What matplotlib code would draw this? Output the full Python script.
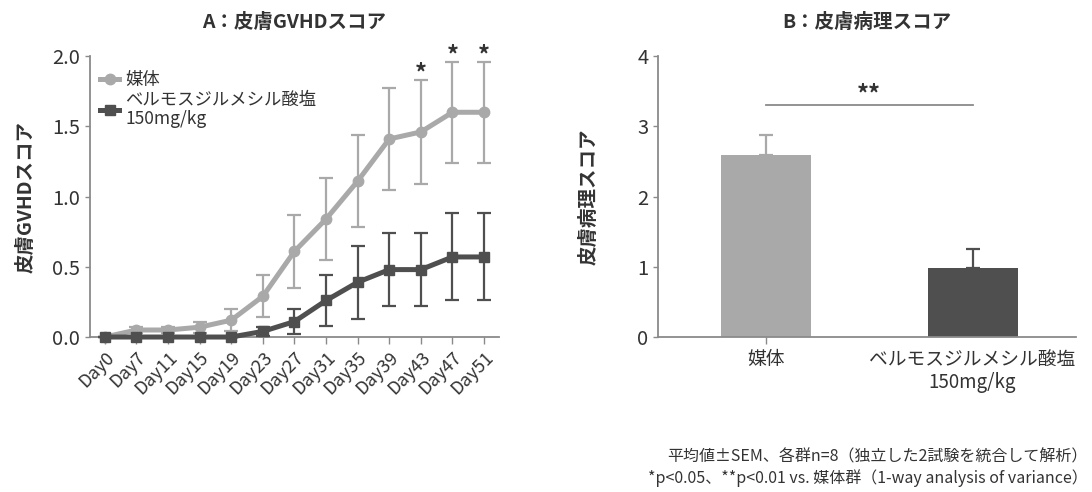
import matplotlib
matplotlib.use("Agg")
import matplotlib.pyplot as plt
from matplotlib.lines import Line2D
import numpy as np

plt.rcParams['font.family'] = ['Noto Sans CJK JP', 'DejaVu Sans']

# Panel A: skin GVHD score over time
days = ["Day0", "Day7", "Day11", "Day15", "Day19", "Day23", "Day27",
        "Day31", "Day35", "Day39", "Day43", "Day47", "Day51"]
vehicle_mean = [0.0, 0.05, 0.05, 0.07, 0.12, 0.29, 0.61, 0.84, 1.11, 1.41, 1.46, 1.60, 1.60]
vehicle_sem = [0.0, 0.02, 0.02, 0.04, 0.08, 0.15, 0.26, 0.29, 0.33, 0.36, 0.37, 0.36, 0.36]
drug_mean = [0.0, 0.0, 0.0, 0.0, 0.0, 0.04, 0.11, 0.26, 0.39, 0.48, 0.48, 0.57, 0.57]
drug_sem = [0.0, 0.0, 0.0, 0.0, 0.0, 0.03, 0.09, 0.18, 0.26, 0.26, 0.26, 0.31, 0.31]
star_days = ["Day43", "Day47", "Day51"]

# Panel B: skin pathology score
groups = ["媒体", "ベルモスジルメシル酸塩\n150mg/kg"]
path_mean = [2.59, 0.98]
path_sem = [0.28, 0.28]

legend_labels = ["媒体", "ベルモスジルメシル酸塩\n150mg/kg"]

c_light = "#a9a9a9"
c_dark = "#4f4f4f"
spine_c = "#8a8a8a"
text_c = "#333333"

fig = plt.figure(figsize=(10.92, 4.92), dpi=100)
axA = fig.add_axes([0.0824, 0.315, 0.3745, 0.571])
axB = fig.add_axes([0.6026, 0.315, 0.3828, 0.571])

x = np.arange(len(days))
axA.errorbar(x, vehicle_mean, yerr=vehicle_sem, color=c_light, lw=3.6,
             marker='o', ms=7.5, ecolor=c_light, elinewidth=1.6, capsize=5,
             capthick=1.6, clip_on=False, zorder=2)
axA.errorbar(x, drug_mean, yerr=drug_sem, color=c_dark, lw=3.6,
             marker='s', ms=7, ecolor=c_dark, elinewidth=1.6, capsize=5,
             capthick=1.6, clip_on=False, zorder=3)

for d in star_days:
    i = days.index(d)
    axA.text(i, vehicle_mean[i] + vehicle_sem[i] - 0.005, "*", ha='center',
             va='baseline', fontsize=17, color=text_c, fontweight='bold')

axA.set_xlim(-0.47, 12.47)
axA.set_ylim(0, 2.0)
axA.set_yticks([0, 0.5, 1.0, 1.5, 2.0])
axA.set_yticklabels(["0.0", "0.5", "1.0", "1.5", "2.0"])
axA.set_xticks(x)
axA.set_xticklabels(days, rotation=45, ha='right', rotation_mode='anchor')
axA.set_ylabel("皮膚GVHDスコア", fontsize=14, fontweight='bold', color=text_c, labelpad=12)
axA.set_title("A：皮膚GVHDスコア", fontsize=14, fontweight='bold', color=text_c, pad=20)

handles = [Line2D([], [], color=c_light, lw=3.6, marker='o', ms=7.5),
           Line2D([], [], color=c_dark, lw=3.6, marker='s', ms=7)]
leg = axA.legend(handles, legend_labels, loc='upper left', bbox_to_anchor=(0.0, 0.985),
                 frameon=False, fontsize=12.5, handlelength=1.1, handletextpad=0.35,
                 borderaxespad=0.2, labelspacing=0.1)
for t in leg.get_texts():
    t.set_color(text_c)
    t.set_linespacing(1.1)

# Panel B bars
xb = np.arange(len(groups))
bar_colors = [c_light, c_dark]
for i in range(len(groups)):
    axB.bar(xb[i], path_mean[i], width=0.435, color=bar_colors[i], zorder=2)
    axB.errorbar(xb[i], path_mean[i], yerr=[[0], [path_sem[i]]], color=bar_colors[i],
                 elinewidth=1.6, capsize=5, capthick=1.6, zorder=1)
axB.plot([0, 1], [3.3, 3.3], color=spine_c, lw=1.3)
axB.text(0.5, 3.36, "**", ha='center', va='baseline', fontsize=17, color=text_c,
         fontweight='bold')
axB.set_xlim(-0.52, 1.50)
axB.set_ylim(0, 4)
axB.set_yticks([0, 1, 2, 3, 4])
axB.set_xticks(xb)
axB.set_xticklabels(groups, linespacing=1.15)
axB.set_ylabel("皮膚病理スコア", fontsize=14, fontweight='bold', color=text_c, labelpad=28)
axB.set_title("B：皮膚病理スコア", fontsize=14, fontweight='bold', color=text_c, pad=20)

for ax in (axA, axB):
    for s in ("top", "right"):
        ax.spines[s].set_visible(False)
    for s in ("left", "bottom"):
        ax.spines[s].set_color(spine_c)
        ax.spines[s].set_linewidth(1.3)
    ax.tick_params(colors=spine_c, labelcolor=text_c, labelsize=14.5, width=1.0)
axA.tick_params(axis='x', labelsize=13, length=5)
axB.tick_params(axis='x', labelsize=13.5, length=5)
axB.xaxis.get_major_ticks()[1].tick1line.set_visible(False)

fig.text(0.996, 0.072, "平均値±SEM、各群n=8（独立した2試験を統合して解析）",
         fontsize=11.5, color=text_c, ha='right', va='center')
fig.text(0.996, 0.028, "*p<0.05、**p<0.01 vs. 媒体群（1-way analysis of variance）",
         fontsize=11.5, color=text_c, ha='right', va='center')

fig.savefig("out.png", dpi=100, facecolor="white")
